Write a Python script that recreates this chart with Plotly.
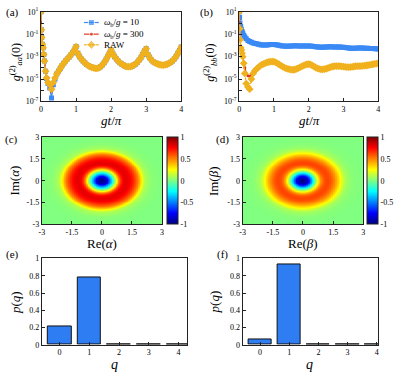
import numpy as np
import plotly.graph_objects as go

W, H = 394, 379

# time axis gt/pi
t_early = [0, 0.01, 0.02, 0.04, 0.06, 0.08, 0.10, 0.13, 0.16, 0.20, 0.25, 0.30, 0.35, 0.40]
t_tail = list(np.round(np.arange(0.45, 4.0001, 0.05), 2))
t = t_early + t_tail

# log10 g2_aa(0)
a_early_10 = [1.0, -0.6, -1.3, -1.9, -2.2, -2.8, -3.4, -4.3, -4.95, -5.4, -5.8, -6.7, -5.5, -5.0]
a_early_300 = [1.0, -0.6, -1.3, -1.9, -2.2, -2.8, -3.4, -4.3, -4.9, -5.35, -5.6, -6.1, -5.35, -4.9]
a_early_raw = [1.0, -0.6, -1.3, -1.9, -2.2, -2.8, -3.4, -4.3, -4.9, -5.3, -5.5, -5.9, -5.3, -4.9]
a_tail = [-4.55, -4.3, -4.05, -3.8, -3.6, -3.4, -3.2, -3.05, -2.85, -2.65, -2.4, -2.1,
          -2.7, -3.0, -3.2, -3.4, -3.55, -3.7, -3.8, -3.9, -3.95, -4.0, -4.05, -4.05, -4.0, -3.9, -3.75, -3.55, -3.3, -3.0, -2.7, -2.4,
          -2.75, -3.0, -3.2, -3.4, -3.55, -3.65, -3.75, -3.85, -3.9, -3.9, -3.9, -3.85, -3.75, -3.65, -3.5, -3.3, -3.1, -2.8, -2.5, -2.3,
          -2.8, -3.1, -3.3, -3.45, -3.55, -3.62, -3.68, -3.72, -3.75, -3.75, -3.72, -3.68, -3.6, -3.5, -3.4, -3.2, -3.0, -2.75, -2.45, -2.15]

# log10 g2_bb(0)
b_early_10 = [1.0, 0.5, 0.0, -0.3, -0.55, -0.75, -0.9, -1.1, -1.25, -1.4, -1.55, -1.65, -1.72, -1.78]
b_tail_10 = [-1.82, -1.86, -1.9, -1.93, -1.96, -1.97, -1.97, -1.96, -1.94, -1.92, -1.91, -1.92,
             -1.94, -1.96, -1.99, -2.02, -2.04, -2.06, -2.07, -2.07, -2.06, -2.05, -2.04, -2.03, -2.03, -2.04, -2.05, -2.06, -2.06, -2.05, -2.04, -2.04,
             -2.05, -2.07, -2.09, -2.11, -2.13, -2.15, -2.16, -2.16, -2.15, -2.14, -2.13, -2.12, -2.12, -2.13, -2.14, -2.15, -2.15, -2.15, -2.16, -2.17,
             -2.19, -2.21, -2.23, -2.24, -2.25, -2.25, -2.24, -2.23, -2.22, -2.22, -2.23, -2.24, -2.25, -2.26, -2.27, -2.28, -2.28, -2.29, -2.3, -2.31]
b_early_300 = [1.0, -0.5, -1.5, -2.2, -2.4, -2.7, -3.0, -3.5, -4.0, -4.5, -4.7, -4.75, -4.6, -4.4]
b_early_raw = [1.0, -0.5, -1.5, -2.2, -2.4, -2.7, -3.0, -3.6, -4.5, -5.4, -5.7, -5.9, -5.0, -4.5]
b_tail = [-4.25, -4.1, -3.95, -3.82, -3.72, -3.65, -3.58, -3.52, -3.48, -3.45, -3.44, -3.45,
          -3.52, -3.6, -3.7, -3.8, -3.9, -3.98, -4.05, -4.1, -4.14, -4.16, -4.17, -4.15, -4.1, -4.03, -3.95, -3.87, -3.8, -3.73, -3.68, -3.67,
          -3.7, -3.78, -3.88, -3.97, -4.05, -4.1, -4.13, -4.14, -4.12, -4.08, -4.02, -3.97, -3.92, -3.88, -3.85, -3.84, -3.84, -3.85, -3.87, -3.9,
          -3.92, -3.94, -3.94, -3.93, -3.91, -3.88, -3.86, -3.85, -3.84, -3.84, -3.83, -3.81, -3.79, -3.77, -3.74, -3.71, -3.68, -3.65, -3.62, -3.6]

r_prof = [0, 0.2, 0.3, 0.4, 0.5, 0.6, 0.7, 0.8, 0.9, 1.0, 1.1, 1.2, 1.3, 1.4, 1.5, 1.6, 1.7, 1.8, 1.9, 2.0, 2.1, 2.2, 2.5, 3.0, 4.5]
w_a = [-1.0, -0.9, -0.75, -0.5, -0.3, -0.05, 0.15, 0.4, 0.6, 0.72, 0.78, 0.8, 0.79, 0.76, 0.72, 0.66, 0.58, 0.5, 0.38, 0.25, 0.14, 0.08, 0.02, 0.0, 0.0]
w_b = [-1.0, -0.9, -0.78, -0.55, -0.32, -0.08, 0.12, 0.3, 0.45, 0.55, 0.6, 0.62, 0.61, 0.58, 0.53, 0.47, 0.4, 0.32, 0.24, 0.16, 0.1, 0.06, 0.015, 0.0, 0.0]

# photon number distributions
q = [0, 1, 2, 3, 4]
p_a = [0.215, 0.785, 0.002, 0.001, 0.0005]
p_b = [0.06, 0.935, 0.004, 0.001, 0.0005]

BLUE = '#3A89F5'
RED = '#E2391E'
YEL = '#F0B11E'
SERIF = 'Liberation Serif'

jet = [[0, 'rgb(0,0,128)'], [0.125, 'rgb(0,0,255)'], [0.375, 'rgb(0,255,255)'],
       [0.625, 'rgb(255,255,0)'], [0.875, 'rgb(255,0,0)'], [1, 'rgb(128,0,0)']]


def dx(x0, x1):
    return [x0 / W, x1 / W]


def dy(y0, y1):
    return [1 - y1 / H, 1 - y0 / H]


def axis(domain, anchor, **kw):
    d = dict(domain=domain, anchor=anchor, showline=True, mirror=True, linecolor='#222',
             linewidth=1, ticks='inside', ticklen=3, tickcolor='#222', showgrid=False,
             zeroline=False, tickfont=dict(family=SERIF, size=8, color='black'))
    d.update(kw)
    return d


fig = go.Figure()

logvals = [10.0 ** k for k in range(-7, 2)]
logtext = ['10<sup>%d</sup>' % k if k % 2 else '' for k in range(-7, 2)]

series = [('<i>ω</i><sub>b</sub>/<i>g</i> = 10', BLUE, 'square', 5, 'solid'),
          ('<i>ω</i><sub>b</sub>/<i>g</i> = 300', RED, 'circle', 3, 'solid'),
          ('RAW', YEL, 'diamond', 6, 'dashdot')]
a_data = [a_early_10 + a_tail, a_early_300 + a_tail, a_early_raw + a_tail]
b_data = [b_early_10 + b_tail_10, b_early_300 + b_tail, b_early_raw + b_tail]

for (name, col, sym, sz, dash), ya, yb in zip(series, a_data, b_data):
    fig.add_trace(go.Scatter(x=t, y=[10.0 ** v for v in ya], mode='lines+markers', showlegend=False,
                             line=dict(color=col, width=1.2, dash=dash),
                             marker=dict(symbol=sym, size=sz, color=col),
                             xaxis='x', yaxis='y'))
    fig.add_trace(go.Scatter(x=t, y=[10.0 ** v for v in yb], mode='lines+markers', showlegend=False,
                             line=dict(color=col, width=1.2, dash=dash),
                             marker=dict(symbol=sym, size=sz, color=col),
                             xaxis='x2', yaxis='y2'))

grid = np.linspace(-3, 3, 181)
X, Y = np.meshgrid(grid, grid)
R = np.sqrt(X ** 2 + Y ** 2)
for w, xa, ya, cbx in [(w_a, 'x3', 'y3', 166), (w_b, 'x4', 'y4', 369)]:
    fig.add_trace(go.Heatmap(x=grid, y=grid, z=np.interp(R, r_prof, w), colorscale=jet,
                             zmin=-1, zmax=1, xaxis=xa, yaxis=ya,
                             colorbar=dict(x=cbx / W, xanchor='left', y=1 - 180 / H, yanchor='middle',
                                           len=90 / H, lenmode='fraction', thickness=11,
                                           xpad=0, ypad=0, outlinewidth=1, outlinecolor='#222',
                                           tickvals=[-1, -0.5, 0, 0.5, 1], ticktext=['-1', '-0.5', '0', '0.5', '1'],
                                           ticks='', tickfont=dict(family=SERIF, size=8, color='black'))))

for p, xa, ya in [(p_a, 'x5', 'y5'), (p_b, 'x6', 'y6')]:
    fig.add_trace(go.Bar(x=q, y=p, width=0.8, marker=dict(color='#2F7DF2', line=dict(color='#111', width=1)),
                         showlegend=False, xaxis=xa, yaxis=ya))

# hand-made legend for panel (a), drawn on a transparent pixel overlay axis
leg_rows = [17, 29, 40]
for (name, col, sym, sz, dash), ry in zip(series, leg_rows):
    fig.add_trace(go.Scatter(x=[82, 89.5, 97], y=[ry, ry, ry], mode='lines+markers', showlegend=False,
                             line=dict(color=col, width=1.2, dash='solid'),
                             marker=dict(symbol=sym, size=[0, sz + 1, 0], color=col),
                             xaxis='x7', yaxis='y7', hoverinfo='skip'))
    fig.add_annotation(text=name, x=100, y=ry, xref='x7', yref='y7', showarrow=False,
                       xanchor='left', yanchor='middle', font=dict(family=SERIF, size=9, color='black'))

ytop, ybot = 6, 98.3
heat_t, heat_b = 135, 225
bar_t, bar_b = 260, 349
lin_ticks = dict(tickvals=[-3, -1.5, 0, 1.5, 3], ticktext=['-3', '-1.5', '0', '1.5', '3'])

fig.update_layout(
    width=W, height=H, margin=dict(l=0, r=0, t=0, b=0),
    paper_bgcolor='white', plot_bgcolor='rgba(0,0,0,0)',
    font=dict(family=SERIF, color='black'),
    bargap=0, showlegend=False,
    xaxis=axis(dx(38.5, 180.5), 'y', range=[0, 4], tickvals=[0, 1, 2, 3, 4]),
    yaxis=axis(dy(ytop, ybot), 'x', type='log', range=[-7, 1], tickvals=logvals, ticktext=logtext),
    xaxis2=axis(dx(239.3, 380), 'y2', range=[0, 4], tickvals=[0, 1, 2, 3, 4]),
    yaxis2=axis(dy(ytop, ybot), 'x2', type='log', range=[-7, 1], tickvals=logvals, ticktext=logtext),
    xaxis3=axis(dx(39.3, 161), 'y3', range=[-3, 3], **lin_ticks),
    yaxis3=axis(dy(heat_t, heat_b), 'x3', range=[-3, 3], **lin_ticks),
    xaxis4=axis(dx(242.7, 365), 'y4', range=[-3, 3], **lin_ticks),
    yaxis4=axis(dy(heat_t, heat_b), 'x4', range=[-3, 3], **lin_ticks),
    xaxis5=axis(dx(39.3, 186.7), 'y5', range=[-0.6, 4.3], tickvals=q),
    yaxis5=axis(dy(bar_t, bar_b), 'x5', range=[0, 1], tickvals=[0, 0.2, 0.4, 0.6, 0.8, 1],
                ticktext=['0', '0.2', '0.4', '0.6', '0.8', '1']),
    xaxis6=axis(dx(242.7, 380), 'y6', range=[-0.6, 4.05], tickvals=q),
    yaxis6=axis(dy(bar_t, bar_b), 'x6', range=[0, 1], tickvals=[0, 0.2, 0.4, 0.6, 0.8, 1],
                ticktext=['0', '0.2', '0.4', '0.6', '0.8', '1']),
    xaxis7=dict(domain=[0, 1], range=[0, W], visible=False, fixedrange=True, anchor='y7'),
    yaxis7=dict(domain=[0, 1], range=[H, 0], visible=False, fixedrange=True, anchor='x7'),
)

labels = [
    ('(a)', 10, 7, 0, 11), ('(b)', 206, 7, 0, 11), ('(c)', 9, 138, 0, 11),
    ('(d)', 222, 138, 0, 11), ('(e)', 10, 256, 0, 11), ('(f)', 222, 256, 0, 11),
    ('<i>gt</i>/<i>π</i>', 110, 118, 0, 13), ('<i>gt</i>/<i>π</i>', 310, 118, 0, 13),
    ('<i>g</i><sup>(2)</sup><sub><i>aa</i></sub>(0)', 13, 58, -90, 12),
    ('<i>g</i><sup>(2)</sup><sub><i>bb</i></sub>(0)', 210, 58, -90, 12),
    ('Re(<i>α</i>)', 100, 245, 0, 13), ('Re(<i>β</i>)', 304, 245, 0, 13),
    ('Im(<i>α</i>)', 12, 180, -90, 13), ('Im(<i>β</i>)', 213, 180, -90, 13),
    ('<i>p</i>(<i>q</i>)', 12, 305, -90, 13), ('<i>p</i>(<i>q</i>)', 214, 305, -90, 13),
    ('<i>q</i>', 113, 369, 0, 14), ('<i>q</i>', 310, 369, 0, 14),
]
for text, px_, py_, ang, size in labels:
    fig.add_annotation(text=text, x=px_ / W, y=1 - py_ / H, xref='paper', yref='paper',
                       showarrow=False, textangle=ang, font=dict(family=SERIF, size=size, color='black'),
                       xanchor='center', yanchor='middle')

fig.write_html("out.html", config={'displayModeBar': False},
               post_script="document.body.style.margin='0';document.body.style.overflow='hidden';")
